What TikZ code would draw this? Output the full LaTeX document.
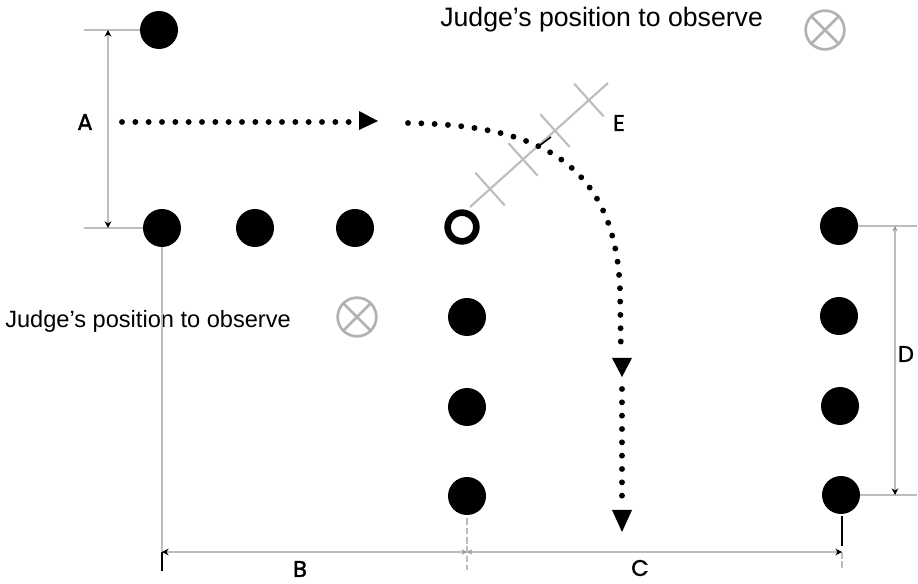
\documentclass[tikz,border=0pt]{standalone}
\usepackage{fontspec}
\setmainfont{Liberation Sans}
\newfontfamily\labfont[FakeBold=1.6]{Poppins}
\usetikzlibrary{arrows.meta,calc}
\definecolor{dimgray}{HTML}{BDBDBD}
\definecolor{judgegray}{HTML}{B2B2B2}
\definecolor{tipgray}{HTML}{9A9A9A}
\tikzset{
  btip/.tip={Stealth[length=5pt,width=5pt,black]},
  gtip/.tip={Stealth[length=4pt,width=4pt,tipgray]}
}
\begin{document}
\begin{tikzpicture}[x=0.75pt,y=-0.75pt,
  dot/.style={circle,fill=black,inner sep=0pt,minimum size=28.5pt},
  ring/.style={circle,draw=black,line width=5pt,inner sep=0pt,minimum size=21.5pt},
  judge/.style={circle,draw=judgegray,line width=2pt,inner sep=0pt,minimum size=29pt},
  judgex/.style={draw=judgegray,line width=2pt},
  dimline/.style={draw=dimgray,line width=1.5pt},
  extline/.style={draw=dimgray,line width=1.5pt},
  extdash/.style={draw=dimgray,line width=1.5pt,dash pattern=on 5pt off 2pt},
  eline/.style={draw=dimgray,line width=1.6pt},
  walk/.style={line width=4.4pt,line cap=round,dash pattern=on 0pt off 10pt},
  lab/.style={font=\labfont\fontsize{17}{17}\selectfont,inner sep=0pt},
  jtext/.style={inner sep=0pt,anchor=base west}
]
\useasboundingbox (0,0) rectangle (918,584);

% dots
\node[dot] (tl) at (159,30) {};
\node[dot] (r1) at (162,228) {};
\node[dot] (r2) at (255,228) {};
\node[dot] (r3) at (355,228) {};
\node[ring] (o) at (462,227) {};
\node[dot] (m1) at (467,317) {};
\node[dot] (m2) at (467,407) {};
\node[dot] (m3) at (467,496) {};
\node[dot] (q1) at (839,226) {};
\node[dot] (q2) at (839,316) {};
\node[dot] (q3) at (840,406) {};
\node[dot] (q4) at (841,495) {};

% judges
\node[judge] (j1) at (825,30) {};
\draw[judgex] (j1.north west) -- (j1.south east) (j1.north east) -- (j1.south west);
\node[judge] (j2) at (357,317) {};
\draw[judgex] (j2.north west) -- (j2.south east) (j2.north east) -- (j2.south west);
\node[jtext,font=\fontsize{20}{24}\selectfont] (t1) at (440,27) {Judge's position to observe};
\node[jtext,font=\fontsize{17.7}{21}\selectfont] (t2) at (5,328) {Judge's position to observe};

% dimension A
\coordinate (a0) at (84,30);
\coordinate (a1) at (84,228);
\coordinate (aT) at (108,30);
\coordinate (aB) at (108,228);
\draw[extline] (a0) -- (tl.west);
\draw[extline] (a1) -- (r1.west);
\draw[dimline,btip-btip] (aT) -- (aB);
\node[lab] (A) at (85,122) {A};

% dimension B / C
\coordinate (bL) at (162,552);
\coordinate (bM) at (467,552);
\coordinate (bR) at (842,552);
\draw[extline] (r1.south) -- (bL);
\draw[line width=1.5pt] (bL) -- (162,571);
\draw[extdash] (m3.south) ++(0,3) -- (467,570);
\draw[line width=1.5pt] (842,516) -- (842,546);
\draw[extdash] (842,552) -- (842,569);
\draw[dimline,btip-gtip] (bL) -- (bM);
\draw[dimline,gtip-btip] (bM) -- (bR);
\node[lab] (B) at (300,569) {B};
\node[lab] (C) at (640,568) {C};

% dimension D
\coordinate (dT) at (895,226);
\coordinate (dB) at (895,495);
\draw[extline] (q1.east) -- (917,226);
\draw[extline] (q4.east) -- (917,495);
\draw[dimline,gtip-btip] (dT) -- (dB);
\node[lab] (D) at (906,354) {D};

% E line with crosses
\coordinate (e0) at (470,207);
\coordinate (e1) at (608,83);
\draw[eline] (e0) -- (e1);
\foreach \t in {0.145,0.384,0.616,0.862}{
  \coordinate (c) at ($(e0)!\t!(e1)$);
  \draw[eline] ($(c)!16.5pt!90:(e1)$) -- ($(c)!16.5pt!-90:(e1)$);
}
\node[lab] (E) at (619,123) {E};
\draw[line width=1.2pt] (539,146) -- (551,137);

% walking path
\coordinate (w0) at (122,122);
\coordinate (w1) at (352,122);
\draw[walk] (w0) -- (w1);
\fill (359,111) -- (378,121) -- (359,130) -- cycle;
\coordinate (w2) at (408,123);
\coordinate (w3) at (621,354);
\draw[walk] (w2) .. controls (520,125) and (615,150) .. (620,290) -- (w3);
\fill (612,358) -- (632,358) -- (622,377) -- cycle;
\coordinate (w4) at (622,389);
\coordinate (w5) at (622,498);
\draw[walk] (w4) -- (w5);
\fill (612,510) -- (632,510) -- (622,532) -- cycle;
\end{tikzpicture}
\end{document}
